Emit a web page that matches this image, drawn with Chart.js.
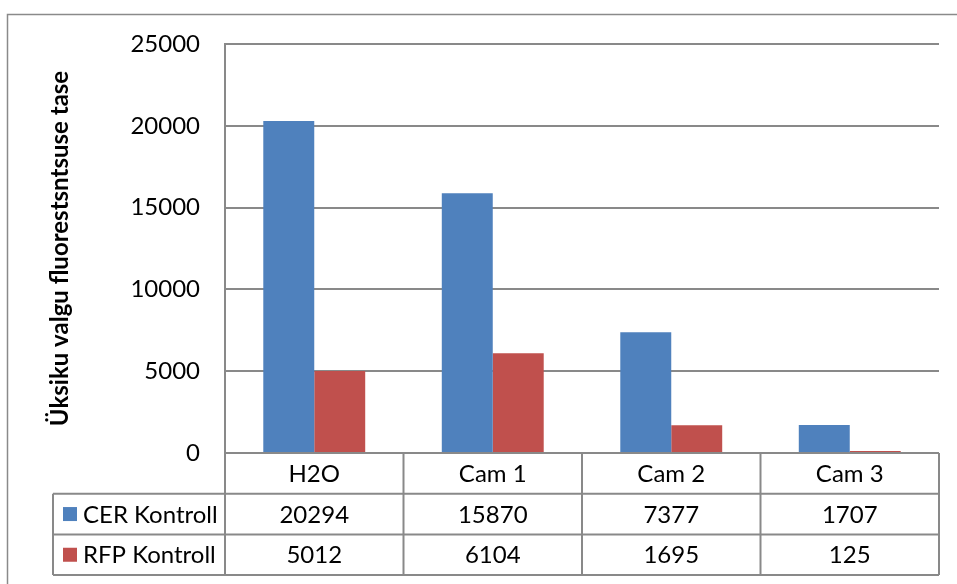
<!DOCTYPE html>
<html><head><meta charset="utf-8">
<script src="https://cdn.jsdelivr.net/npm/chart.js@4.4.1/dist/chart.umd.min.js"></script>
<style>html,body{margin:0;padding:0;background:#fff}#wrap{width:957px;height:584px}</style>
</head><body><div id="wrap"><canvas id="c" width="957" height="584"></canvas></div>
<script>
const categories = ["H2O", "Cam 1", "Cam 2", "Cam 3"];
const cerValues = [20294, 15870, 7377, 1707];
const rfpValues = [5012, 6104, 1695, 125];
const seriesNames = ["CER Kontroll", "RFP Kontroll"];
const yTicks = [0, 5000, 10000, 15000, 20000, 25000];
const yTitle = "Üksiku valgu fluorestsntsuse tase";

const FONT = "Lato";
const GRID = "#898989";
const colors = ["#4F81BD", "#C0504D"];

const tablePlugin = {
  id: "tbl",
  beforeDraw(chart) {
    const ctx = chart.ctx;
    ctx.save();
    ctx.fillStyle = "#fff";
    ctx.fillRect(0, 0, chart.width, chart.height);
    ctx.strokeStyle = "#8a8a8a";
    ctx.lineWidth = 1.5;
    ctx.strokeRect(7.5, 14.5, 1000, 1000);
    ctx.restore();
  },
  afterDraw(chart) {
    const ctx = chart.ctx;
    const ca = chart.chartArea;
    const xs = chart.scales.x;
    const n = categories.length;
    const cw = (ca.right - ca.left) / n;
    const rowH = 40.7;
    const y0 = ca.bottom, y1 = y0 + rowH, y2 = y1 + rowH, y3 = y2 + rowH;
    const tableLeft = 53;
    ctx.save();
    ctx.strokeStyle = GRID;
    ctx.lineWidth = 2;
    ctx.beginPath();
    ctx.moveTo(ca.left, y0); ctx.lineTo(ca.right, y0);
    ctx.moveTo(tableLeft, y1); ctx.lineTo(ca.right, y1);
    ctx.moveTo(tableLeft, y2); ctx.lineTo(ca.right, y2);
    ctx.moveTo(tableLeft, y3); ctx.lineTo(ca.right, y3);
    ctx.moveTo(tableLeft, y1); ctx.lineTo(tableLeft, y3);
    for (let i = 0; i <= n; i++) {
      const x = ca.left + i * cw;
      ctx.moveTo(x, y0); ctx.lineTo(x, y3);
    }
    ctx.stroke();
    ctx.fillStyle = "#000";
    ctx.font = "24px " + FONT;
    ctx.textAlign = "center";
    ctx.textBaseline = "middle";
    const dataRows = [cerValues, rfpValues];
    categories.forEach((c, i) => {
      const cx = xs.getPixelForValue(i);
      ctx.fillText(c, cx, (y0 + y1) / 2 + 1);
      ctx.fillText(String(dataRows[0][i]), cx, (y1 + y2) / 2 + 1);
      ctx.fillText(String(dataRows[1][i]), cx, (y2 + y3) / 2 + 1);
    });
    ctx.textAlign = "left";
    seriesNames.forEach((s, k) => {
      const yc = k === 0 ? (y1 + y2) / 2 : (y2 + y3) / 2;
      ctx.fillStyle = colors[k];
      ctx.fillRect(63, yc - 7, 14, 14);
      ctx.fillStyle = "#000";
      ctx.fillText(s, 83, yc + 1);
    });
    ctx.restore();
  }
};

new Chart(document.getElementById("c"), {
  type: "bar",
  data: {
    labels: categories,
    datasets: [
      { label: seriesNames[0], data: cerValues, backgroundColor: colors[0], categoryPercentage: 0.571, barPercentage: 1.0 },
      { label: seriesNames[1], data: rfpValues, backgroundColor: colors[1], categoryPercentage: 0.571, barPercentage: 1.0 }
    ]
  },
  options: {
    responsive: false,
    animation: false,
    layout: { padding: { left: 0, right: 18, top: 44, bottom: 131 } },
    plugins: { legend: { display: false }, tooltip: { enabled: false } },
    scales: {
      x: { display: false },
      y: {
        min: yTicks[0], max: yTicks[yTicks.length - 1],
        afterFit(s) { s.width = 225; },
        afterBuildTicks(s) { s.ticks = yTicks.map(v => ({ value: v })); },
        grid: { color: GRID, lineWidth: 2, drawTicks: false },
        border: { display: true, color: GRID, width: 2 },
        ticks: { color: "#000", font: { family: FONT, size: 24 }, padding: 25, callback: v => String(v) },
        title: { display: true, text: yTitle, color: "#000", font: { family: FONT, size: 24, weight: "bold" }, padding: { top: 46, bottom: 0 } }
      }
    }
  },
  plugins: [tablePlugin]
});
</script></body></html>
